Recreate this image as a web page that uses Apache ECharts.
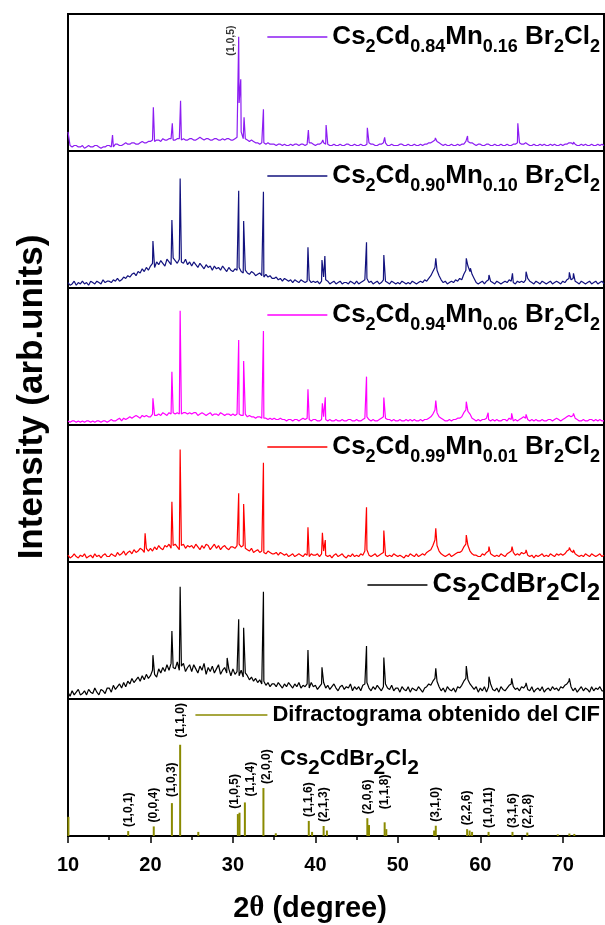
<!DOCTYPE html>
<html>
<head>
<meta charset="utf-8">
<script src="https://cdn.jsdelivr.net/npm/echarts@6/dist/echarts.min.js"></script>
<style>
  html, body { margin: 0; padding: 0; background: #fff; }
  #chart { width: 605px; height: 925px; }
</style>
</head>
<body>
<div id="chart"></div>
<script>
// ---- Powder XRD scans, 2θ from 10° to 75°, background sampled every 0.25° (one row = 5°) ----
const scanStart = 10;
const scanStep = 0.25;

// Cs2Cd0.84Mn0.16Br2Cl2
const mn016Scan = [
  14, 4, 3, 4, 4, 3, 3, 4, 2, 3, 4, 3, 3, 4, 4, 3, 2, 3, 3, 4,
  4, 3, 3, 5, 5, 4, 4, 5, 6, 5, 5, 6, 6, 5, 5, 6, 7, 6, 6, 7,
  7, 8, 7, 8, 8, 7, 9, 8, 8, 9, 9, 8, 8, 9, 9, 8, 9, 8, 8, 9,
  9, 8, 8, 9, 10, 9, 8, 9, 9, 8, 8, 9, 9, 8, 8, 9, 8, 9, 9, 8,
  8, 9, 10, 35, 14, 9, 9, 8, 7, 8, 7, 6, 6, 5, 6, 6, 5, 6, 5, 5,
  5, 4, 5, 5, 4, 5, 4, 4, 5, 4, 5, 5, 4, 5, 5, 4, 5, 6, 6, 5,
  4, 5, 5, 6, 6, 5, 5, 4, 4, 5, 4, 4, 5, 4, 4, 5, 5, 4, 4, 5,
  4, 4, 5, 4, 4, 5, 6, 5, 5, 4, 4, 5, 5, 6, 6, 4, 4, 5, 4, 4,
  4, 5, 5, 4, 4, 5, 4, 4, 5, 4, 4, 5, 4, 5, 5, 6, 6, 7, 8, 7,
  6, 5, 4, 5, 4, 4, 5, 4, 4, 5, 4, 5, 5, 7, 7, 6, 6, 5, 4, 5,
  5, 4, 4, 5, 5, 4, 4, 5, 4, 4, 5, 4, 4, 5, 4, 4, 5, 5, 6, 6,
  5, 5, 6, 5, 4, 4, 5, 4, 4, 5, 4, 5, 4, 4, 5, 4, 5, 4, 4, 5,
  4, 5, 5, 6, 6, 5, 5, 4, 4, 5, 4, 5, 4, 4, 5, 4, 4, 5, 4, 5,
  4
];
const mn016Peaks = [
  [15.4, 11.7], [20.35, 31.9], [22.65, 20.2], [23.65, 36.7], [30.7, 83.4],
  [30.95, 52.3], [31.35, 24.6], [33.7, 30.4], [39.15, 15.3], [39.65, 7],
  [40.9, 8], [41.3, 19], [46.3, 17], [48.4, 10], [54.55, 9.5], [58.45, 11],
  [60.9, 6], [64.55, 20.2], [65.6, 6.5], [70.8, 7], [71.3, 6.5]
];
const mn016Hkl = [[30.7, '(1,0,5)']];

// Cs2Cd0.90Mn0.10Br2Cl2
const mn010Scan = [
  4, 2, 3, 5, 2, 4, 3, 5, 3, 4, 2, 5, 4, 3, 5, 4, 3, 6, 4, 5,
  5, 4, 6, 5, 7, 5, 6, 8, 7, 9, 8, 10, 11, 9, 12, 11, 14, 12, 15, 13,
  16, 18, 15, 19, 17, 20, 18, 16, 21, 19, 17, 22, 20, 18, 21, 19, 18, 21, 17, 19,
  16, 19, 17, 15, 18, 16, 14, 17, 15, 16, 13, 16, 14, 15, 13, 16, 14, 12, 15, 13,
  12, 14, 13, 15, 12, 11, 13, 11, 10, 12, 11, 9, 10, 11, 9, 8, 10, 8, 9, 7,
  7, 8, 6, 7, 5, 7, 6, 5, 6, 4, 6, 5, 4, 6, 5, 4, 5, 6, 4, 5,
  4, 5, 3, 5, 8, 6, 5, 3, 4, 5, 3, 4, 5, 3, 4, 4, 3, 5, 4, 3,
  5, 3, 4, 5, 6, 7, 4, 5, 3, 4, 5, 3, 4, 6, 5, 4, 3, 5, 4, 3,
  4, 3, 5, 4, 3, 4, 3, 5, 4, 3, 4, 5, 4, 6, 5, 7, 9, 12, 15, 13,
  9, 6, 4, 5, 3, 4, 5, 4, 6, 5, 7, 6, 10, 13, 16, 12, 10, 7, 4, 3,
  4, 5, 3, 5, 6, 5, 4, 3, 5, 4, 3, 4, 5, 4, 6, 5, 4, 3, 5, 4,
  5, 4, 6, 7, 5, 4, 3, 5, 4, 3, 5, 4, 3, 4, 5, 3, 4, 5, 4, 3,
  5, 4, 6, 7, 6, 7, 5, 4, 3, 5, 4, 3, 4, 5, 3, 4, 5, 3, 4, 5,
  3
];
const mn010Peaks = [
  [20.3, 34.3], [22.6, 49.6], [23.6, 80], [30.7, 71], [31.3, 48.9], [33.7, 70.3],
  [39.1, 29.7], [40.8, 20.4], [41.15, 23.4], [46.2, 33.3], [48.3, 24], [54.6, 21.7],
  [58.3, 21.7], [58.8, 14.4], [61.05, 9.5], [63.9, 10.7], [65.55, 11.9], [70.8, 11.4],
  [71.3, 10.7]
];

// Cs2Cd0.94Mn0.06Br2Cl2
const mn006Scan = [
  3, 2, 3, 3, 2, 3, 2, 3, 2, 3, 3, 2, 3, 2, 3, 3, 2, 3, 3, 2,
  3, 4, 3, 3, 4, 5, 3, 5, 4, 5, 6, 5, 6, 7, 6, 5, 7, 6, 7, 6,
  6, 8, 7, 7, 8, 7, 9, 8, 7, 9, 8, 9, 8, 9, 8, 8, 9, 9, 8, 9,
  8, 9, 9, 7, 8, 9, 8, 7, 8, 9, 7, 8, 8, 7, 9, 8, 7, 8, 8, 7,
  8, 7, 8, 8, 7, 7, 8, 6, 7, 6, 6, 5, 6, 6, 5, 5, 5, 4, 5, 4,
  5, 4, 4, 5, 4, 4, 3, 4, 4, 3, 4, 4, 3, 4, 5, 4, 5, 4, 3, 4,
  4, 3, 3, 4, 6, 4, 3, 4, 3, 3, 4, 3, 3, 4, 3, 3, 4, 4, 3, 3,
  4, 3, 3, 4, 5, 6, 4, 3, 4, 3, 3, 4, 5, 6, 5, 4, 4, 3, 4, 3,
  3, 4, 3, 3, 4, 3, 4, 3, 4, 3, 3, 4, 3, 4, 4, 5, 6, 8, 11, 9,
  6, 5, 4, 3, 3, 4, 3, 4, 4, 5, 5, 6, 9, 11, 10, 8, 5, 4, 3, 4,
  3, 4, 4, 5, 4, 3, 4, 3, 4, 3, 3, 4, 4, 3, 5, 4, 3, 4, 3, 4,
  5, 6, 5, 4, 3, 4, 3, 4, 3, 3, 4, 3, 3, 4, 4, 3, 4, 5, 4, 3,
  4, 5, 6, 7, 6, 7, 5, 4, 3, 3, 4, 3, 3, 4, 4, 3, 4, 3, 4, 3,
  3
];
const mn006Peaks = [
  [20.3, 19.5], [22.6, 38.9], [23.6, 83.4], [30.7, 62], [31.3, 46.7], [33.7, 68.6],
  [39.1, 26], [40.85, 15.8], [41.2, 20.2], [46.2, 35.3], [48.3, 20], [54.6, 17.8],
  [58.3, 17], [60.95, 9], [63.8, 8.5], [65.55, 7.8], [70.8, 8], [71.3, 8.5]
];

// Cs2Cd0.99Mn0.01Br2Cl2
const mn001Scan = [
  5, 3, 4, 6, 4, 3, 5, 4, 6, 3, 4, 5, 3, 6, 4, 5, 3, 5, 6, 4,
  4, 6, 5, 4, 7, 5, 6, 8, 5, 7, 8, 6, 9, 7, 8, 10, 9, 7, 10, 8,
  10, 8, 11, 9, 12, 10, 9, 12, 11, 13, 10, 12, 13, 11, 9, 12, 13, 10, 12, 11,
  12, 10, 13, 11, 9, 12, 10, 13, 12, 9, 11, 13, 10, 12, 9, 11, 12, 10, 9, 11,
  11, 10, 12, 13, 11, 12, 10, 9, 8, 10, 7, 8, 9, 7, 8, 7, 6, 8, 7, 6,
  6, 7, 5, 7, 6, 5, 6, 4, 5, 6, 4, 5, 6, 5, 4, 6, 5, 4, 6, 5,
  5, 6, 4, 6, 8, 5, 4, 5, 3, 5, 6, 4, 5, 6, 4, 3, 5, 4, 6, 4,
  5, 4, 6, 5, 8, 9, 5, 4, 5, 6, 4, 5, 6, 7, 5, 4, 5, 4, 6, 5,
  4, 5, 4, 3, 5, 4, 6, 5, 4, 6, 4, 5, 6, 5, 7, 8, 9, 12, 16, 12,
  8, 6, 5, 4, 5, 6, 4, 5, 6, 7, 7, 8, 11, 13, 12, 8, 6, 5, 5, 4,
  4, 6, 5, 7, 8, 6, 5, 4, 5, 4, 6, 5, 4, 6, 7, 8, 7, 5, 6, 5,
  7, 6, 7, 5, 4, 5, 3, 5, 4, 5, 6, 4, 5, 4, 6, 5, 4, 6, 5, 6,
  5, 6, 8, 9, 8, 7, 6, 5, 4, 5, 4, 6, 5, 4, 6, 5, 4, 5, 6, 4,
  5
];
const mn001Peaks = [
  [19.35, 21], [22.6, 44], [23.6, 82.2], [30.7, 50.1], [31.3, 42.3], [33.7, 72.5],
  [39.1, 25.3], [40.85, 21.4], [41.2, 16], [46.2, 40], [48.3, 22.9], [54.6, 24.6],
  [58.3, 19.7], [61.05, 11.2], [63.85, 11.2], [65.55, 8.8], [70.8, 10.5], [71.3, 8.8]
];

// Cs2CdBr2Cl2
const pureScan = [
  5, 2, 6, 3, 5, 7, 3, 4, 6, 3, 7, 5, 4, 8, 5, 3, 7, 6, 4, 8,
  8, 5, 10, 7, 9, 11, 8, 12, 9, 13, 11, 15, 12, 14, 16, 13, 17, 14, 18, 15,
  17, 21, 18, 16, 22, 19, 23, 20, 25, 21, 26, 23, 22, 27, 21, 24, 26, 20, 23, 25,
  20, 25, 22, 19, 24, 21, 26, 18, 23, 20, 24, 19, 22, 25, 18, 21, 23, 19, 22, 17,
  22, 18, 20, 17, 21, 16, 19, 17, 14, 16, 13, 15, 12, 14, 11, 13, 10, 12, 9, 11,
  11, 9, 12, 10, 8, 11, 9, 12, 10, 8, 11, 9, 12, 8, 10, 9, 11, 8, 12, 9,
  10, 7, 9, 11, 12, 8, 10, 7, 9, 11, 8, 6, 9, 10, 7, 9, 8, 11, 6, 9,
  7, 9, 6, 10, 11, 12, 8, 6, 9, 7, 10, 8, 6, 9, 11, 8, 7, 10, 6, 8,
  8, 5, 9, 7, 6, 9, 5, 8, 7, 6, 9, 7, 5, 8, 9, 11, 10, 13, 15, 13,
  9, 6, 8, 5, 9, 7, 6, 8, 5, 9, 8, 10, 13, 15, 14, 11, 9, 7, 9, 5,
  8, 6, 9, 5, 9, 11, 7, 6, 8, 5, 9, 7, 6, 8, 10, 11, 9, 7, 8, 6,
  9, 8, 10, 7, 6, 9, 5, 7, 8, 6, 9, 5, 7, 8, 6, 9, 7, 8, 6, 9,
  8, 10, 11, 13, 9, 6, 8, 5, 7, 9, 6, 8, 7, 5, 9, 6, 8, 7, 9, 6,
  6
];
const purePeaks = [
  [20.3, 32], [22.6, 49.6], [23.6, 82], [29.3, 30], [30.7, 58.2], [31.3, 52],
  [33.7, 78.3], [39.1, 35.8], [40.8, 23.1], [46.2, 38.7], [48.3, 30.2], [54.6, 22.4],
  [58.3, 24.1], [61.05, 16.3], [63.8, 15.1], [65.55, 11.7], [70.8, 15.1]
];

// Pattern calculated from the CIF (stick pattern)
const cifAngles = [
  10.05, 17.3, 20.4, 22.6, 23.6, 25.8, 30.6, 30.8, 31.45, 33.7, 35.2, 39.2, 39.6,
  41.0, 41.4, 46.3, 46.5, 48.4, 48.6, 54.4, 54.6, 58.4, 58.7, 59.0, 61.0, 63.9,
  65.7, 69.4, 70.8, 71.4
];
const cifIntensity = [
  14, 3.6, 7, 24, 66.6, 3, 16, 17, 24.5, 35, 2, 11, 3,
  7.3, 4, 13, 8, 10, 5, 4, 7.5, 5, 4, 3, 3, 3,
  2.5, 1.2, 1.8, 1.5
];
const cifHkl = [
  '', '(1,0,1)', '(0,0,4)', '(1,0,3)', '(1,1,0)', '', '', '(1,0,5)', '(1,1,4)', '(2,0,0)', '', '(1,1,6)', '',
  '(2,1,3)', '', '(2,0,6)', '', '(1,1,8)', '', '', '(3,1,0)', '(2,2,6)', '', '', '(1,0,11)', '(3,1,6)',
  '(2,2,8)', '', '', ''
];

// Axis ticks
const majorTicks = [10, 20, 30, 40, 50, 60, 70];
const minorTicks = [15, 25, 35, 45, 55, 65];

// Legend formulas as [element, subscript] pairs
const formulaMn016 = [['Cs', '2'], ['Cd', '0.84'], ['Mn', '0.16'], [' Br', '2'], ['Cl', '2']];
const formulaMn010 = [['Cs', '2'], ['Cd', '0.90'], ['Mn', '0.10'], [' Br', '2'], ['Cl', '2']];
const formulaMn006 = [['Cs', '2'], ['Cd', '0.94'], ['Mn', '0.06'], [' Br', '2'], ['Cl', '2']];
const formulaMn001 = [['Cs', '2'], ['Cd', '0.99'], ['Mn', '0.01'], [' Br', '2'], ['Cl', '2']];
const formulaPure = [['Cs', '2'], ['Cd', ''], ['Br', '2'], ['Cl', '2']];
const cifLegendText = 'Difractograma obtenido del CIF';

// ---- layout and styling ----
const FONT = "'Liberation Sans', Arial, Helvetica, sans-serif";
const PANEL_TOP = 14;
const PANEL_H = 137;
const PLOT_LEFT = 68;
const PLOT_RIGHT = 1;

function mergeScan(scan, peaks) {
  const pts = scan.map((v, i) => [scanStart + i * scanStep, v]);
  peaks.forEach(p => pts.push([p[0], p[1]]));
  pts.sort((a, b) => a[0] - b[0]);
  return pts;
}

function richFormula(pairs) {
  return pairs.map(([el, sub]) => '{m|' + el + '}' + (sub ? '{s|' + sub + '}' : '')).join('');
}

function formulaRich(mainSize, subSize, lineH, drop) {
  return {
    m: { fontFamily: FONT, fontWeight: 'bold', fontSize: mainSize, color: '#000', lineHeight: lineH },
    s: { fontFamily: FONT, fontWeight: 'bold', fontSize: subSize, color: '#000', lineHeight: lineH, padding: [drop * 2, 0, 0, 0] }
  };
}

const samples = [
  { name: 'Cs2Cd0.84Mn0.16Br2Cl2', color: '#8c1df2', data: mergeScan(mn016Scan, mn016Peaks), formula: formulaMn016, legendTop: 13 },
  { name: 'Cs2Cd0.90Mn0.10Br2Cl2', color: '#12127e', data: mergeScan(mn010Scan, mn010Peaks), formula: formulaMn010, legendTop: 152 },
  { name: 'Cs2Cd0.94Mn0.06Br2Cl2', color: '#ff00ff', data: mergeScan(mn006Scan, mn006Peaks), formula: formulaMn006, legendTop: 291 },
  { name: 'Cs2Cd0.99Mn0.01Br2Cl2', color: '#ff0000', data: mergeScan(mn001Scan, mn001Peaks), formula: formulaMn001, legendTop: 423 },
  { name: 'Cs2CdBr2Cl2', color: '#000000', data: mergeScan(pureScan, purePeaks), formula: formulaPure, legendTop: 560 }
];
const cifName = 'CIF';
const cifColor = '#8a8a00';

const grids = [], xAxes = [], yAxes = [], series = [], legends = [];

for (let i = 0; i < 6; i++) {
  grids.push({
    left: PLOT_LEFT, right: PLOT_RIGHT, top: PANEL_TOP + PANEL_H * i, height: PANEL_H,
    show: true, borderColor: '#000', borderWidth: 2, backgroundColor: 'transparent',
    containLabel: false, outerBoundsMode: 'none'
  });
  yAxes.push({ type: 'value', gridIndex: i, min: 0, max: 100, show: false });
  if (i < 5) {
    xAxes.push({ type: 'value', gridIndex: i, min: 10, max: 75, show: false });
  }
}

// bottom axis with major ticks and labels
xAxes.push({
  type: 'value', gridIndex: 5, min: 10, max: 75, position: 'bottom',
  axisLine: { show: true, onZero: false, lineStyle: { color: '#000', width: 2 } },
  axisTick: { show: true, customValues: majorTicks, length: 7, inside: false, lineStyle: { color: '#000', width: 1.5 } },
  axisLabel: { show: true, customValues: majorTicks, fontFamily: FONT, fontWeight: 'bold', fontSize: 20, color: '#000', margin: 19 },
  splitLine: { show: false }
});
// bottom axis minor ticks
xAxes.push({
  type: 'value', gridIndex: 5, min: 10, max: 75, position: 'bottom',
  axisLine: { show: false, onZero: false },
  axisTick: { show: true, customValues: minorTicks, length: 4, inside: false, lineStyle: { color: '#000', width: 1.5 } },
  axisLabel: { show: false },
  splitLine: { show: false }
});

samples.forEach((s, i) => {
  series.push({
    type: 'line', name: s.name, xAxisIndex: i, yAxisIndex: i, data: s.data,
    showSymbol: false, symbol: 'none', silent: true, animation: false,
    lineStyle: { color: s.color, width: 1.2 }, itemStyle: { color: s.color }
  });
  const pure = i === 4;
  legends.push({
    data: [s.name], right: 0, top: s.legendTop, selectedMode: false,
    icon: 'rect', itemWidth: 60, itemHeight: 1.5, itemGap: 0,
    formatter: () => richFormula(s.formula),
    textStyle: { rich: pure ? formulaRich(27, 24, 32, 8) : formulaRich(26, 18, 30, 10) }
  });
});

// hkl tag in the top panel (label offsets are given in the rotated text frame)
series.push({
  type: 'scatter', xAxisIndex: 0, yAxisIndex: 0, silent: true, animation: false,
  symbolSize: 1, itemStyle: { color: 'rgba(0,0,0,0)' },
  data: mn016Hkl.map(([a, t]) => ({ value: [a, mn016Peaks.find(p => p[0] === a)[1]], tag: t })),
  label: {
    show: true, position: 'inside', rotate: 90, align: 'left', verticalAlign: 'middle',
    offset: [-19, -8], formatter: (p) => p.data.tag,
    fontFamily: FONT, fontWeight: 'bold', fontSize: 10.5, color: '#000', textBorderWidth: 0
  }
});

// CIF stick pattern with hkl labels; nudges are [up, right] in the rotated text frame
const hklNudge = { '(1,0,5)': [0, -5], '(1,1,4)': [2, 6], '(2,0,0)': [0, 3], '(1,1,8)': [9, 0], '(1,1,0)': [3, 1], '(1,0,3)': [2, 0] };
series.push({
  type: 'bar', name: cifName, xAxisIndex: 5, yAxisIndex: 5, barWidth: 2, silent: true, animation: false,
  itemStyle: { color: cifColor },
  data: cifAngles.map((a, k) => ({
    value: [a, cifIntensity[k]],
    label: cifHkl[k] ? { show: true, formatter: cifHkl[k], offset: hklNudge[cifHkl[k]] || [0, 0] } : { show: false }
  })),
  label: {
    position: 'top', distance: 4, rotate: 90, align: 'left', verticalAlign: 'middle',
    fontFamily: FONT, fontWeight: 'bold', fontSize: 12, color: '#000'
  }
});
legends.push({
  data: [cifName], right: 0, top: 697, selectedMode: false,
  icon: 'rect', itemWidth: 72, itemHeight: 1.5,
  formatter: () => cifLegendText,
  textStyle: { fontFamily: FONT, fontWeight: 'bold', fontSize: 22, color: '#000', lineHeight: 26 }
});

const chart = echarts.init(document.getElementById('chart'), null, { renderer: 'canvas' });
chart.setOption({
  animation: false,
  backgroundColor: '#fff',
  grid: grids,
  xAxis: xAxes,
  yAxis: yAxes,
  legend: legends,
  series: series,
  graphic: [
    {
      type: 'text', x: 32, y: 397, rotation: Math.PI / 2, silent: true,
      style: { text: 'Intensity (arb.units)', font: 'bold 35px ' + FONT, fill: '#000', align: 'center', verticalAlign: 'middle' }
    },
    {
      type: 'text', x: 310, y: 909, silent: true,
      style: {
        text: '{n|2}{t|θ}{n| (degree)}', align: 'center', verticalAlign: 'middle',
        rich: {
          n: { fontFamily: FONT, fontWeight: 'bold', fontSize: 29, color: '#000' },
          t: { fontFamily: "'Liberation Serif', 'DejaVu Serif', serif", fontWeight: 'bold', fontSize: 29, color: '#000' }
        }
      }
    },
    {
      type: 'text', x: 280, y: 759, silent: true,
      style: {
        text: richFormula(formulaPure), align: 'left', verticalAlign: 'middle',
        rich: formulaRich(22, 21, 26, 9.5)
      }
    }
  ]
});
</script>
</body>
</html>
